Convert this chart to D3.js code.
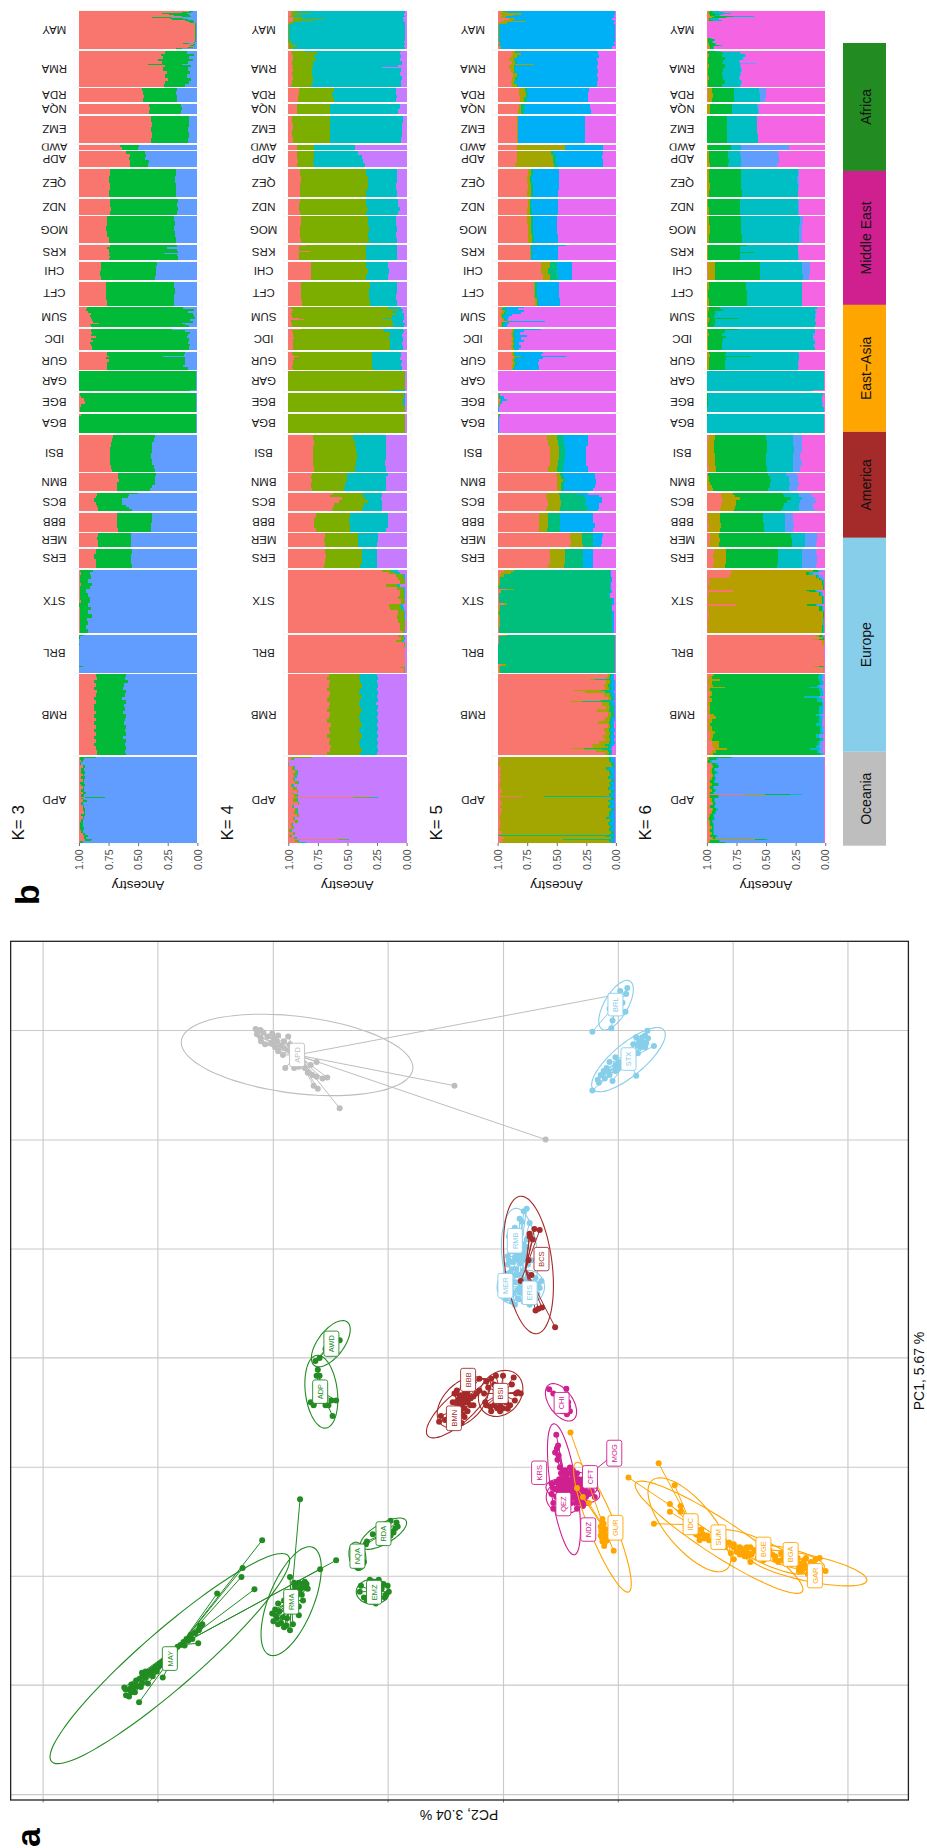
<!DOCTYPE html>
<html><head><meta charset="utf-8">
<script src="https://cdnjs.cloudflare.com/ajax/libs/d3/7.8.5/d3.min.js"></script>
<style>html,body{margin:0;padding:0;background:#fff}svg{display:block}text{font-family:"Liberation Sans",Arial,sans-serif}</style>
</head><body><div id="chart"></div>
<script>
// ---------- panel b : populations, top to bottom ----------
const populations = ["MAY","RMA","RDA","NQA","EMZ","AWD","ADP","QEZ","NDZ","MOG","KRS","CHI","CFT","SUM","IDC","GUR","GAR","BGE","BGA","BSI","BMN","BCS","BBB","MER","ERS","STX","BRL","RMB","APD"];
const populationSizes = [38,36,14,10,27,5,16,28,16,27,15,18,24,20,21,18,20,19,19,37,18,18,19,14,19,63,38,81,86];
const ancestryTicks = [0,0.25,0.5,0.75,1];
const kValues = [3,4,5,6];
const k3Colors = ["#F8766D","#00BA38","#619CFF"];
const k4Colors = ["#F8766D","#7CAE00","#00BFC4","#C77CFF"];
const k5Colors = ["#F8766D","#A3A500","#00BF7D","#00B0F6","#E76BF3"];
const k6Colors = ["#F8766D","#B79F00","#00BA38","#00BFC4","#619CFF","#F564E3"];
// each run: [individuals, then ancestry-axis % where each component ends, reading from 100 down to 0]
const k3Rows = [
 [[1,7,4],[1,13,5],[1,30,9],[1,24,7],[1,20,6],[1,13,5],[1,38,22],[1,23,12],[1,21,8],[1,10,4],[1,8,3],[1,6,3],[18,2,1],[1,3,2],[1,12,7],[1,4,2],[1,6,3],[1,3,2],[1,8,4],[1,18,13]],
 [[3,27,9],[2,31,3],[3,29,7],[2,33,4],[3,30,8],[1,42,13],[2,27,5],[4,29,8],[3,26,6],[4,27,9],[3,25,5],[3,27,7],[3,28,10]],
 [[3,47,17],[4,46,18],[3,45,17],[4,46,17]],
 [[3,41,14],[3,40,13],[4,41,14]],
 [[6,39,7],[5,38,7],[5,39,8],[6,38,7],[5,39,8]],
 [[2,65,49],[3,64,50]],
 [[3,60,44],[3,57,43],[3,58,44],[3,57,41],[4,57,42]],
 [[7,74,18],[7,75,19],[7,74,18],[7,75,18]],
 [[4,74,16],[4,74,17],[4,73,16],[4,74,17]],
 [[5,76,20],[5,76,19],[5,77,20],[6,76,19],[6,75,18]],
 [[2,74,17],[2,76,26],[2,75,17],[2,75,16],[1,74,28],[2,75,17],[2,74,16],[2,75,16]],
 [[4,81,34],[5,81,35],[5,82,35],[4,81,36]],
 [[6,77,20],[6,77,19],[6,77,20],[6,76,20]],
 [[2,93,12],[2,94,3],[2,92,8],[2,90,4],[2,91,3],[2,90,2],[2,89,6],[2,88,4],[1,83,13],[1,91,10],[2,90,7]],
 [[1,90,21],[2,90,10],[2,89,6],[2,90,8],[2,86,9],[2,90,7],[2,88,7],[2,91,8],[2,90,6],[2,89,7],[2,89,7]],
 [[2,76,10],[2,76,11],[1,75,29],[2,77,10],[3,75,10],[3,76,10],[2,76,12],[3,76,8]],
 [[19,100,1],[1,100,6]],
 [[3,99,1],[2,98,1],[3,96,1],[3,95,1],[3,98,1],[5,99,1]],
 [[2,98,1],[17,100,1]],
 [[3,71,36],[4,72,37],[5,73,38],[6,74,38],[6,74,39],[6,74,38],[4,73,37],[3,72,36]],
 [[3,67,35],[3,67,36],[3,66,36],[3,68,36],[3,68,38],[3,68,40]],
 [[1,85,50],[2,85,58],[2,86,59],[4,87,64],[3,86,64],[2,85,60],[2,84,58],[2,84,55]],
 [[5,68,38],[5,68,38],[5,68,39],[4,67,39]],
 [[4,84,56],[3,85,56],[4,84,56],[3,84,56]],
 [[5,86,55],[5,87,56],[5,86,56],[4,86,55]],
 [[2,99,88],[3,98,91],[4,99,90],[4,99,92],[3,98,89],[3,99,91],[4,99,94],[4,99,92],[3,99,91],[3,98,91],[4,100,92],[3,99,90],[4,99,92],[4,99,89],[3,99,93],[4,99,92],[4,99,94],[4,99,92]],
 [[1,100,97],[3,100,99],[5,100,100],[1,100,99],[21,100,100],[1,100,97],[6,100,100]],
 [[3,86,60],[3,85,61],[3,87,59],[4,86,62],[3,87,63],[3,85,60],[4,86,61],[3,87,64],[4,86,60],[3,87,62],[4,87,61],[3,86,63],[4,87,60],[3,86,61],[4,87,62],[4,86,60],[3,87,61],[4,86,60],[3,87,63],[4,86,60],[3,87,61],[4,86,60],[3,85,61],[2,85,60]],
 [[1,99,86],[2,99,96],[2,98,97],[3,99,98],[3,97,95],[3,98,96],[3,98,95],[2,97,96],[3,98,95],[3,97,96],[2,99,96],[2,98,95],[3,97,96],[3,98,96],[2,97,94],[3,98,96],[1,95,78],[1,98,97],[2,97,96],[2,97,93],[3,98,97],[3,97,96],[3,97,95],[3,96,95],[2,98,95],[3,97,96],[3,98,97],[3,99,97],[2,99,97],[3,99,96],[3,98,97],[2,97,95],[2,96,92],[2,96,94],[1,95,89],[1,95,90],[2,99,97]]
];
const k4Rows = [
 [[1,98,92,1],[1,97,94,1],[1,98,82,2],[1,97,88,2],[1,98,94,2],[1,99,96,1],[2,96,88,3],[1,95,70,2],[1,97,91,3],[1,96,78,2],[2,99,96,1],[16,100,99,1],[2,100,98,2],[2,99,97,1],[2,99,93,2],[2,99,96,1]],
 [[1,98,87,5],[3,97,76,6],[3,96,78,5],[3,96,77,6],[4,97,79,4],[2,96,79,7],[1,97,80,21],[4,96,80,5],[4,97,80,6],[4,96,79,4],[3,97,79,5],[2,97,80,5],[2,98,81,5]],
 [[4,91,61,9],[3,91,63,9],[3,92,62,8],[4,92,61,9]],
 [[5,93,65,6],[5,93,65,7]],
 [[7,97,65,3],[7,96,65,4],[7,97,65,4],[6,96,65,5]],
 [[5,93,78,44]],
 [[4,93,78,41],[4,93,78,38],[4,92,79,37],[4,93,78,35]],
 [[7,90,34,8],[7,89,33,8],[7,90,33,9],[7,90,34,8]],
 [[4,90,34,7],[4,91,34,7],[4,91,33,6],[4,90,34,7]],
 [[5,89,33,9],[5,89,33,9],[6,90,32,8],[6,90,33,9],[5,89,32,8]],
 [[1,85,34,8],[5,91,34,8],[1,82,34,8],[8,91,34,8]],
 [[6,81,34,16],[6,81,33,15],[6,81,34,16]],
 [[6,89,31,8],[6,89,32,8],[6,89,32,9],[6,88,31,8]],
 [[2,98,16,5],[2,96,7,3],[2,97,12,4],[2,98,9,2],[3,97,12,2],[1,91,20,2],[1,87,12,2],[3,98,12,3],[2,97,11,1],[2,97,12,2]],
 [[1,90,22,3],[2,97,19,2],[2,96,14,3],[3,96,14,4],[2,95,16,3],[3,96,14,3],[3,96,14,4],[3,96,14,3],[2,96,14,3]],
 [[2,97,29,5],[2,96,29,5],[1,91,28,5],[3,95,29,6],[3,96,29,4],[3,96,29,5],[2,97,29,4],[2,96,28,4]],
 [[19,100,1,1],[1,100,13,1]],
 [[5,100,2,1],[8,100,3,1],[6,100,1,1]],
 [[19,100,1,1]],
 [[5,79,45,17],[6,78,44,17],[7,79,43,17],[7,79,42,17],[6,79,43,18],[6,78,44,17]],
 [[3,80,50,16],[3,81,50,17],[3,80,50,17],[3,81,52,17],[3,81,52,17],[3,80,53,17]],
 [[2,62,37,21],[2,65,37,21],[3,55,35,22],[3,57,33,21],[4,61,36,21],[2,62,38,21],[2,63,38,21]],
 [[5,77,48,16],[5,78,49,16],[5,78,48,16],[4,77,48,17]],
 [[5,69,41,24],[4,70,41,24],[5,69,41,25]],
 [[5,69,38,25],[5,68,38,25],[5,69,38,25],[4,70,39,25]],
 [[2,21,13,7],[2,15,10,6],[3,9,3,1],[3,7,2,1],[4,6,1,1],[3,17,8,6],[3,8,3,1],[6,6,2,1],[3,7,2,1],[5,5,1,1],[3,15,6,3],[3,14,5,2],[5,7,2,1],[4,8,2,1],[4,7,1,1],[8,6,1,1],[2,3,2,1]],
 [[2,7,3,2],[3,5,2,1],[2,9,4,2],[5,2,1,1],[20,1,1,1],[1,6,1,1],[5,2,1,1]],
 [[3,66,39,25],[3,67,40,24],[3,65,39,25],[4,66,38,24],[3,67,39,25],[4,65,40,24],[3,66,38,25],[4,67,39,24],[3,65,40,26],[4,66,39,24],[3,67,38,25],[4,65,39,24],[3,66,40,25],[4,67,39,24],[3,64,38,25],[4,66,40,24],[3,65,39,25],[4,67,38,24],[3,65,39,25],[4,66,40,24],[3,64,39,25],[4,65,38,24],[3,67,39,25]],
 [[1,97,80,80],[2,98,96,95],[3,99,99,99],[3,100,99,99],[4,97,95,94],[3,94,93,92],[2,96,93,92],[3,95,94,93],[3,96,95,94],[3,94,92,91],[3,98,97,95],[3,96,93,93],[3,93,92,92],[1,97,96,95],[3,95,93,92],[1,45,30,24],[4,96,93,92],[3,92,91,91],[3,97,96,95],[3,94,93,92],[3,95,93,92],[3,93,91,91],[3,96,95,94],[3,94,92,92],[3,98,97,96],[3,97,95,95],[3,99,98,97],[3,96,94,94],[2,99,98,97],[2,95,94,93],[1,58,50,49],[2,94,92,91],[1,92,90,85]]
];
const k5Rows = [
 [[1,97,95,94,1],[1,96,92,92,1],[2,98,80,80,1],[1,96,87,87,2],[1,97,93,93,2],[1,98,94,94,1],[2,90,86,86,3],[1,95,88,88,2],[1,96,76,76,1],[2,99,92,92,2],[18,100,99,99,1],[2,99,98,98,2],[2,100,99,99,1],[3,98,97,97,3]],
 [[2,88,85,84,15],[2,87,80,79,15],[3,89,84,83,14],[3,90,86,85,16],[3,88,85,84,15],[1,89,69,69,15],[4,90,86,85,16],[4,89,86,85,15],[4,87,84,83,16],[4,88,85,84,15],[3,89,86,85,16],[3,88,84,83,16]],
 [[4,82,77,75,23],[5,82,76,74,24],[5,81,78,75,24]],
 [[5,82,80,77,22],[5,83,80,78,21]],
 [[9,84,83,83,26],[9,84,83,83,26],[9,84,83,83,26]],
 [[5,84,43,43,11]],
 [[4,84,55,52,11],[4,84,53,51,12],[4,84,53,51,11],[4,85,52,50,11]],
 [[7,74,72,70,48],[7,75,73,71,48],[7,74,72,70,48],[7,75,72,70,49]],
 [[8,74,73,72,49],[8,75,73,71,49]],
 [[9,75,72,70,50],[9,74,72,70,50],[9,74,71,69,49]],
 [[1,73,72,71,42],[7,73,72,72,49],[1,73,72,68,49],[6,73,72,72,49]],
 [[6,63,56,50,37],[6,63,57,50,37],[6,62,56,49,37]],
 [[8,69,68,67,48],[8,69,68,67,48],[8,68,67,66,47]],
 [[1,96,94,92,78],[2,97,96,94,83],[2,96,94,92,78],[2,97,95,93,80],[2,98,96,94,88],[2,97,96,95,90],[3,96,95,94,91],[1,93,90,88,60],[2,97,96,94,90],[3,97,96,95,92]],
 [[1,88,86,84,63],[2,88,86,85,78],[3,89,87,86,81],[2,88,87,86,75],[3,88,86,85,80],[2,89,87,86,78],[3,88,86,85,82],[3,89,87,86,80],[2,88,86,85,82]],
 [[2,88,86,85,62],[2,88,86,85,63],[1,86,80,78,42],[2,87,85,84,62],[3,88,86,85,65],[3,87,85,84,66],[3,88,86,85,65],[2,88,87,86,65]],
 [[20,100,100,100,100]],
 [[3,100,99,99,98],[3,100,99,98,95],[2,98,97,96,92],[3,99,98,98,96],[3,100,99,99,98],[5,100,100,100,99]],
 [[3,100,99,98,98],[16,100,100,100,99]],
 [[5,58,50,45,24],[6,57,49,44,24],[7,56,48,43,25],[7,56,48,43,25],[6,56,49,44,25],[6,57,50,45,24]],
 [[3,51,47,45,18],[3,50,46,44,18],[3,50,45,43,17],[3,50,46,44,17],[3,50,46,44,18],[3,50,46,44,19]],
 [[2,58,48,33,24],[2,59,47,27,14],[3,58,47,26,12],[3,57,46,25,12],[3,57,46,26,14],[3,58,47,24,14],[2,59,47,25,15]],
 [[5,65,57,47,19],[5,65,57,47,19],[5,65,57,47,18],[4,65,58,47,19]],
 [[4,39,29,19,11],[3,39,29,19,12],[4,38,29,19,12],[3,39,28,19,13]],
 [[5,56,43,28,19],[5,56,43,28,19],[5,56,43,28,19],[4,57,44,28,19]],
 [[2,95,86,5,4],[2,97,89,5,4],[3,98,95,5,4],[5,99,98,4,3],[3,99,98,5,4],[4,100,99,5,4],[1,93,86,5,4],[3,98,97,4,3],[5,99,99,6,5],[5,99,99,3,2],[2,95,92,3,2],[6,99,98,4,3],[4,100,99,3,2],[6,99,98,3,2],[6,99,98,3,2],[6,99,99,3,2]],
 [[1,97,92,1,1],[8,99,99,1,1],[20,100,100,1,1],[2,97,93,1,1],[7,99,98,1,1]],
 [[3,7,5,3,2],[2,8,6,4,2],[1,22,18,5,2],[4,8,5,3,1],[3,10,7,4,1],[3,9,6,3,1],[1,35,13,6,1],[2,26,9,5,2],[4,10,5,3,1],[3,7,4,2,1],[1,14,12,4,1],[1,39,29,5,2],[4,12,6,3,1],[3,8,5,2,1],[3,16,6,2,1],[5,7,4,2,1],[4,9,5,3,1],[3,15,6,4,2],[4,7,5,3,2],[4,10,6,4,1],[3,8,5,3,2],[4,11,6,4,1],[3,9,5,4,2],[3,14,6,4,1],[2,20,9,5,2],[2,19,7,4,3],[1,38,27,6,3],[1,27,12,6,4],[2,17,7,4,3],[2,9,6,4,3],[1,10,7,5,3]],
 [[2,97,6,4,1],[3,99,6,4,1],[3,100,4,2,1],[3,98,3,1,1],[3,97,8,6,1],[3,98,6,4,1],[3,97,5,3,1],[3,98,7,5,1],[3,97,4,2,1],[3,98,6,4,1],[3,99,5,3,1],[3,97,7,5,1],[3,96,4,2,1],[3,98,6,4,1],[1,79,61,11,1],[3,98,4,2,1],[3,97,7,5,1],[3,96,5,3,1],[3,98,7,5,1],[3,96,4,2,1],[3,97,6,4,1],[3,98,6,4,1],[3,99,8,6,1],[3,98,5,3,1],[3,97,7,5,1],[3,98,5,3,1],[3,99,6,4,1],[3,96,4,2,1],[2,99,6,4,1],[1,100,99,2,1],[1,97,8,6,1],[2,95,4,2,1],[1,97,45,4,1],[2,96,6,4,1],[1,98,4,2,1]]
];
const k6Rows = [
 [[1,99,97,95,90,90],[1,99,98,96,86,85],[1,99,98,93,80,80],[1,98,97,90,86,86],[1,99,97,93,89,89],[1,97,94,78,60,60],[1,98,96,85,83,83],[2,99,98,97,90,90],[1,99,98,95,87,87],[18,100,100,100,100,100],[1,100,99,97,96,96],[2,100,99,94,93,93],[2,100,99,96,95,95],[2,99,98,93,92,92],[1,99,98,90,87,87],[3,99,97,95,94,94]],
 [[1,100,99,92,88,88],[2,100,99,86,72,71],[3,99,98,87,68,67],[3,100,99,85,70,69],[3,100,99,86,73,72],[1,100,99,87,72,58],[4,100,98,85,72,71],[4,100,99,86,71,70],[4,100,99,87,72,71],[4,99,98,86,73,72],[4,100,99,85,71,70],[3,100,99,87,72,71]],
 [[5,99,96,77,56,50],[5,99,95,77,55,50],[4,99,96,77,55,51]],
 [[5,100,97,79,58,56],[5,100,97,79,57,56]],
 [[9,100,100,83,58,58],[9,100,100,83,58,58],[9,100,100,83,57,57]],
 [[5,100,99,80,71,31]],
 [[4,100,98,82,72,40],[4,100,98,82,71,39],[4,100,98,81,71,39],[4,100,97,82,71,41]],
 [[7,100,98,71,23,22],[7,100,98,71,24,22],[7,100,97,71,23,22],[7,100,98,70,23,23]],
 [[8,100,99,72,23,22],[8,100,98,72,23,22]],
 [[9,100,98,71,21,19],[9,100,97,71,22,20],[9,100,98,70,22,20]],
 [[1,100,99,66,23,23],[6,100,99,72,23,23],[1,100,99,60,23,23],[7,100,99,72,23,22]],
 [[6,99,93,55,20,13],[6,99,93,55,20,13],[6,99,93,55,19,14]],
 [[8,100,98,67,20,20],[8,100,99,66,20,20],[8,100,98,66,20,20]],
 [[2,100,98,89,7,6],[2,100,98,86,9,9],[2,100,99,93,8,7],[2,100,99,93,9,8],[3,100,99,94,9,8],[1,99,97,74,9,8],[3,100,98,93,9,9],[3,100,99,93,8,8],[2,100,99,94,9,9]],
 [[1,100,99,74,9,9],[3,100,99,85,9,9],[3,100,98,87,10,9],[2,100,99,84,10,10],[3,100,99,86,10,9],[3,100,99,87,9,9],[3,100,99,87,10,9],[3,100,99,87,9,9]],
 [[2,100,98,84,23,22],[2,99,97,85,22,22],[1,99,97,63,22,22],[3,100,98,84,22,22],[3,100,98,85,23,22],[3,100,98,85,23,23],[2,100,98,85,23,22],[2,100,98,85,23,23]],
 [[19,100,100,100,1,1],[1,100,100,100,10,10]],
 [[3,100,100,99,2,2],[5,100,100,99,3,3],[6,100,100,99,3,2],[5,100,100,100,1,1]],
 [[2,100,100,99,1,1],[17,100,100,100,1,1]],
 [[5,98,93,50,27,20],[6,99,94,49,27,20],[7,99,94,49,26,20],[7,99,93,50,27,21],[6,99,93,50,27,20],[6,98,92,49,27,21]],
 [[3,99,99,48,33,24],[3,100,98,47,31,23],[3,100,98,46,31,23],[3,100,97,47,30,22],[3,99,96,47,31,23],[3,99,95,48,31,24]],
 [[2,88,78,36,22,12],[2,88,76,35,22,11],[3,87,72,29,20,9],[3,86,75,32,21,8],[3,88,75,35,22,10],[3,88,76,36,22,10],[2,89,77,37,22,9]],
 [[5,99,89,53,34,27],[5,99,89,53,34,27],[5,98,88,52,34,26],[4,99,89,52,34,27]],
 [[5,97,90,29,17,7],[4,97,89,28,17,7],[5,98,90,28,17,8]],
 [[5,94,84,40,20,8],[5,95,84,40,20,7],[5,94,84,40,20,7],[4,95,85,41,20,8]],
 [[2,80,10,6,5,2],[3,80,16,14,10,5],[3,81,8,7,5,2],[2,98,5,4,3,1],[5,97,3,2,1,1],[5,99,2,1,1,1],[1,78,16,9,8,4],[1,78,14,8,6,3],[4,98,5,4,3,2],[8,99,3,2,1,1],[2,75,15,8,7,3],[5,99,5,3,2,1],[7,98,2,1,1,1],[7,99,2,2,1,1],[8,99,3,2,1,1]],
 [[2,8,5,3,2,1],[2,4,2,1,1,1],[1,10,5,1,1,1],[5,3,1,1,1,1],[16,1,1,1,1,1],[1,3,1,1,1,1],[4,1,1,1,1,1],[1,10,5,2,1,1],[6,2,1,1,1,1]],
 [[2,96,94,5,3,1],[2,98,96,6,3,1],[2,99,89,5,3,2],[4,99,96,4,2,1],[2,98,95,7,5,2],[1,97,85,14,4,2],[3,99,97,5,3,1],[4,97,96,4,2,1],[2,99,97,18,5,3],[4,98,96,7,3,1],[4,99,97,3,2,1],[3,98,97,5,2,1],[4,99,97,5,2,1],[2,97,94,8,4,2],[3,97,92,5,3,1],[4,99,96,5,3,2],[3,98,97,8,3,2],[4,99,96,4,3,1],[3,97,93,4,2,1],[4,97,95,8,5,2],[3,98,96,4,2,1],[3,96,90,6,4,2],[3,95,90,8,5,2],[2,93,83,13,4,2],[3,96,92,7,5,2],[2,98,95,4,2,1]],
 [[1,99,98,80,79,1],[2,99,98,92,91,1],[3,100,99,97,96,1],[2,97,96,92,91,1],[3,96,95,91,90,1],[3,97,96,94,93,1],[3,97,96,92,91,1],[3,96,95,94,93,1],[3,97,96,93,92,1],[3,98,97,94,93,1],[3,97,96,91,90,1],[3,98,97,95,94,1],[3,97,96,93,92,1],[2,98,97,95,94,1],[1,68,51,30,20,1],[3,98,97,91,90,1],[3,97,96,94,93,1],[3,96,95,93,92,1],[3,98,97,94,93,1],[3,96,95,92,91,1],[3,97,96,93,92,1],[3,98,97,95,94,1],[3,99,98,94,93,1],[3,98,97,96,95,1],[3,98,97,95,94,1],[3,97,96,95,94,1],[3,98,97,95,94,1],[3,97,96,95,94,1],[2,98,97,92,91,1],[2,96,95,93,92,1],[1,97,59,51,48,1],[2,98,97,90,89,1],[1,99,98,85,84,1]]
];
// ---------- legend ----------
const legendGroups = ["Africa","Middle East","East\u2212Asia","America","Europe","Oceania"];
const legendSpans = [128,134,127,106,214,94];
const groupColors = ["#228B22","#D02090","#FFA500","#A52A2A","#87CEEB","#BEBEBE"];
// ---------- panel a : PC coordinates in reading units of the plot ----------
const pc2Ticks = [72,266,461,655,850,1044,1238,1432];
const pc1Ticks = [186,371,555,739,924,1108,1292,1477];
const pcaPops = ["APD","BRL","STX","RMB","MER","ERS","BCS","BBB","BMN","BSI","CHI","KRS","CFT","QEZ","MOG","NDZ","GUR","IDC","SUM","BGE","BGA","GAR","AWD","ADP","RDA","NQA","EMZ","RMA","MAY"];
const pcaGroup = [5,4,4,4,4,4,3,3,3,3,1,1,1,1,1,1,2,2,2,2,2,2,0,0,0,0,0,0,0];
const pcaHubs = [[502,228],[1040,143],[1062,235],[878,570],[865,620],[890,625],[888,590],[782,812],[775,825],[846,800],[948,815],[958,960],[975,955],[960,975],[965,962],[960,965],[1022,1030],[1168,1022],[1213,1043],[1290,1065],[1335,1075],[1372,1095],[559,716],[543,797],[648,1037],[604,1075],[630,1135],[492,1150],[305,1225]];
const pcaLabels = [[502,228],[1040,143],[1062,235],[870,542],[854,618],[895,630],[915,573],[791,777],[767,842],[846,800],[949,816],[911,934],[997,941],[952,987],[1038,901],[994,1030],[1040,1027],[1167,1021],[1214,1043],[1290,1063],[1336,1072],[1377,1108],[560,716],[541,797],[648,1037],[604,1075],[632,1136],[492,1152],[287,1248]];
const pcaEllipses = [[502,228,197,65,7],[1041,144,47,20,-60],[1062,236,78,27,-40],[878,565,78,30,85],[865,620,25,28,0],[893,620,27,28,0],[893,583,117,40,83],[782,815,52,32,-45],[775,825,70,24,-42],[846,800,42,34,-50],[948,815,36,20,55],[953,962,112,22,81],[975,955,35,22,5],[955,975,32,28,0],[968,965,46,20,10],[965,970,25,18,0],[1018,1026,118,22,68],[1165,1022,98,40,50],[1215,1043,168,30,33],[1290,1068,80,18,25],[1335,1078,60,15,15],[1365,1095,102,22,12],[559,716,46,22,-53],[543,797,62,27,83],[648,1037,44,17,-30],[604,1075,24,14,80],[630,1135,28,21,0],[492,1151,98,38,-68],[287,1248,265,48,-41]];
const pcaPoints = [
 [[432,184],[436,188],[440,186],[434,193],[445,190],[452,197],[441,205],[448,210],[460,192],[463,200],[470,195],[468,205],[475,212],[480,205],[487,197],[490,210],[470,222],[478,228],[465,215],[458,208],[440,198],[495,215],[500,235],[510,240],[515,250],[525,245],[535,240],[520,258],[528,262],[535,265],[545,268],[553,266],[530,280],[537,285],[482,250],[497,250],[505,248],[574,318],[768,280],[922,371],[1032,128]],
 [[1060,115],[1058,125],[1057,155],[1035,170],[1033,183],[1001,189],[1030,150],[1048,120],[1052,140],[1042,135]],
 [[1001,288],[1094,187],[1090,195],[1075,198],[1085,205],[1082,215],[1090,215],[1105,213],[1078,225],[1040,232],[1045,240],[1030,240],[1025,250],[1015,262],[1010,270],[1035,272],[1030,262],[1045,250],[1075,263],[1055,245],[1070,210],[1095,200],[1080,205],[1088,208],[1020,255],[1040,255],[1012,275],[1022,268],[1085,198],[1078,210],[1092,208],[1040,245],[1028,256],[1018,262]],
 [[885,492],[890,488],[878,505],[882,510],[895,512],[860,535],[862,560],[870,570],[875,575],[880,580],[885,575],[872,590],[880,600],[865,590],[870,545],[876,555],[868,560],[880,555],[886,560],[870,520],[880,530],[890,540],[862,548],[868,535],[875,540],[884,548],[890,552],[858,568],[866,578],[874,565],[880,568],[888,568],[892,582],[858,582],[862,596],[875,600],[885,592],[892,600],[898,575]],
 [[870,600],[855,600],[860,610],[850,620],[845,625],[856,640],[865,645],[860,575],[875,625],[868,630],[850,608],[862,622],[872,612],[880,618],[858,632],[848,632],[866,612],[876,640],[870,650]],
 [[875,640],[885,645],[895,650],[905,605],[910,615],[915,610],[905,640],[900,625],[892,600],[882,615],[878,630],[890,620],[912,622],[908,632],[898,612],[886,608],[880,625],[892,632],[900,642],[886,635]],
 [[903,522],[912,524],[895,535],[938,688],[910,657],[916,655],[905,660],[895,530],[898,600],[880,610],[900,540],[893,575]],
 [[800,805],[810,795],[822,780],[810,775],[795,790],[790,800],[782,790],[770,800],[765,815],[775,825],[790,815],[785,808],[800,820],[778,803],[788,796],[795,808],[772,815],[805,800]],
 [[745,838],[742,848],[752,845],[760,840],[765,830],[770,815],[780,820],[785,825],[775,810],[790,815],[768,800],[772,795],[785,800],[780,810],[795,820],[785,840],[780,850],[775,835],[770,825],[778,828],[785,815],[790,830],[782,835],[768,838],[760,828],[795,808]],
 [[850,770],[868,773],[865,785],[875,798],[880,800],[870,812],[862,820],[850,825],[840,825],[830,830],[822,820],[818,800],[825,790],[830,775],[835,785],[820,815],[845,830],[855,815],[872,800],[838,770],[835,820],[845,822],[858,826],[828,822]],
 [[928,793],[957,792],[960,815],[963,830],[958,835],[950,830],[935,800],[942,806],[960,822]],
 [[940,870],[943,888],[938,900],[942,912],[948,935],[932,952],[950,945],[955,930],[963,925],[968,930],[946,925],[944,905],[941,893]],
 [[985,945],[990,955],[1000,965],[1005,975],[975,935],[985,965],[970,950],[980,975],[992,945],[965,935],[978,945],[995,970],[985,985],[970,940],[960,935],[975,968]],
 [[932,970],[935,985],[945,995],[960,995],[965,985],[955,975],[945,985],[975,985],[950,965],[960,965],[970,975],[938,962],[942,975],[950,990],[955,985],[965,975],[975,995],[985,990],[935,995],[948,975],[958,970],[970,965]],
 [[1035,905],[945,955],[950,950],[975,945],[960,945],[965,950],[975,960],[985,985],[955,960],[945,945],[955,940],[968,945],[980,950],[985,955],[990,965],[960,955],[968,958],[978,968],[948,962],[955,968]],
 [[935,960],[940,975],[950,980],[960,955],[970,965],[980,960],[990,975],[965,975],[940,950],[950,958],[962,962],[972,972],[985,970],[992,985],[945,968],[955,950],[965,968],[982,978],[975,978],[960,980]],
 [[964,866],[1037,1066],[1018,1012],[1015,1025],[1020,1035],[1022,1045],[1018,1050],[1025,1040],[1020,1020],[1015,1040],[1022,1052],[975,960],[985,975],[995,985],[1016,1032],[1024,1030],[1020,1028],[1026,1048],[1017,1044],[1021,1058],[1018,1018]],
 [[1113,918],[1140,955],[1132,987],[1150,990],[1132,1000],[1105,1020],[1170,1010],[1180,1040],[1190,1045],[1175,1030],[1185,1030],[1195,1040],[1182,1048],[1176,1038],[1188,1038],[1198,1048],[1168,1030]],
 [[1062,942],[1150,1000],[1240,1080],[1268,1085],[1210,1050],[1225,1060],[1240,1060],[1255,1065],[1232,1052],[1245,1068],[1262,1075],[1222,1052],[1250,1072],[1235,1070]],
 [[1240,1055],[1250,1060],[1262,1068],[1270,1072],[1285,1070],[1295,1075],[1310,1080],[1258,1075],[1268,1060],[1280,1078],[1300,1065],[1320,1082],[1275,1065],[1262,1060],[1290,1082],[1305,1072],[1255,1068],[1282,1062]],
 [[1310,1075],[1320,1070],[1335,1080],[1345,1085],[1350,1095],[1355,1100],[1330,1072],[1340,1068],[1360,1090],[1315,1085],[1325,1078],[1338,1088],[1348,1078],[1358,1082],[1328,1088]],
 [[1345,1080],[1352,1090],[1360,1095],[1370,1085],[1378,1080],[1385,1078],[1395,1100],[1380,1100],[1375,1110],[1365,1105],[1385,1095],[1358,1085],[1368,1095],[1376,1090],[1355,1098],[1372,1102],[1362,1078],[1350,1100]],
 [[574,710],[540,740],[560,715],[533,745],[550,725]],
 [[537,760],[540,770],[535,770],[545,795],[525,815],[530,820],[550,820],[560,812],[568,812],[562,838],[530,818],[555,820]],
 [[670,1018],[660,1015],[672,1025],[665,1035],[655,1048],[630,1038],[620,1050],[618,1055],[640,1045],[660,1040],[668,1028],[652,1030]],
 [[618,1055],[615,1085],[605,1095],[598,1080],[610,1070]],
 [[610,1125],[625,1115],[640,1115],[655,1125],[657,1135],[650,1145],[635,1155],[620,1150],[608,1135],[645,1130],[615,1145],[648,1122],[652,1140],[628,1118]],
 [[507,979],[490,1110],[497,1120],[505,1120],[515,1118],[520,1130],[510,1140],[512,1150],[505,1160],[505,1175],[480,1150],[470,1155],[465,1165],[460,1172],[462,1185],[470,1190],[475,1188],[480,1195],[490,1200],[485,1180],[495,1190],[500,1130],[508,1130],[514,1128],[500,1125],[510,1122],[518,1122],[506,1136],[468,1180],[478,1178],[472,1168],[484,1192],[466,1175]],
 [[210,1297],[213,1310],[218,1300],[222,1292],[228,1305],[235,1322],[230,1285],[240,1272],[245,1280],[250,1290],[255,1270],[262,1265],[268,1262],[275,1280],[240,1290],[225,1300],[218,1312],[232,1295],[248,1275],[258,1278],[236,1282],[242,1276],[252,1272],[265,1270],[228,1292],[222,1305],[212,1300],[238,1296],[246,1270],[272,1258],[305,1225],[310,1220],[315,1215],[325,1215],[330,1205],[338,1192],[335,1222],[300,1228],[322,1208],[312,1226],[318,1218],[443,1048],[410,1095],[408,1110],[367,1138],[430,1131],[541,1097],[568,1082],[338,1195],[336,1200],[342,1190]]
];

const W = 927, H = 1848;
const svg = d3.select("#chart").append("svg").attr("width",W).attr("height",H).attr("viewBox",`0 0 ${W} ${H}`);
svg.append("rect").attr("width",W).attr("height",H).attr("fill","#fff");
const defs = svg.append("defs");

// ----- panel b -----
const rowsByK = [k3Rows,k4Rows,k5Rows,k6Rows];
const colorsByK = [k3Colors,k4Colors,k5Colors,k6Colors];
const panelLeft = d3.scaleLinear().domain([3,4]).range([79,288.3]);
const panelWidth = 118.3;
const gapUnits = 1.71;
const totalUnits = d3.sum(populationSizes) + gapUnits*(populations.length-1);
const yRow = d3.scaleLinear().domain([0,totalUnits]).range([11,843]);
const popStart = populations.map((p,i)=> d3.sum(populationSizes.slice(0,i)) + i*gapUnits);

kValues.forEach((k,ki)=>{
  const left = panelLeft(k);
  const x = d3.scaleLinear().domain([1,0]).range([left,left+panelWidth]);
  const g = svg.append("g");
  const colors = colorsByK[ki];
  populations.forEach((pop,pi)=>{
    const s = popStart[pi], n = populationSizes[pi];
    const top = yRow(s), bot = yRow(s+n);
    g.append("rect").attr("x",left-5).attr("width",panelWidth+10).attr("y",top-0.3).attr("height",bot-top+0.6)
      .attr("fill","none").attr("stroke","#f3f3f3").attr("stroke-width",0.6);
    const runs = rowsByK[ki][pi];
    const unit = n/d3.sum(runs,r=>r[0]);
    let off = 0;
    runs.forEach(r=>{
      const y0 = yRow(s+off), y1 = yRow(s+off+r[0]*unit);
      off += r[0]*unit;
      const ends = r.slice(1).concat([0]);
      let prev = 100;
      ends.forEach((e,ci)=>{
        if(prev>e){
          g.append("rect").attr("x",x(prev/100)).attr("width",x(e/100)-x(prev/100))
           .attr("y",y0).attr("height",y1-y0).attr("fill",colors[ci]).attr("shape-rendering","crispEdges");
        }
        prev = e;
      });
    });
    const id = `clip-${k}-${pop}`;
    defs.append("clipPath").attr("id",id).append("rect").attr("x",left-60).attr("width",55).attr("y",top-1).attr("height",bot-top+2);
    g.append("g").attr("clip-path",`url(#${id})`).append("text")
      .attr("transform",`translate(${left-24.7},${(top+bot)/2}) rotate(180)`).attr("text-anchor","middle").attr("dy","0.36em")
      .attr("font-size",11.5).attr("fill","#1a1a1a").text(pop);
  });
  const axis = g.append("g").attr("transform",`translate(0,843)`)
    .call(d3.axisBottom(x).tickValues(ancestryTicks).tickFormat(d3.format(".2f")).tickSize(3));
  axis.select(".domain").remove();
  axis.selectAll("line").attr("stroke","#333").attr("stroke-width",0.7);
  axis.selectAll("text").attr("transform","rotate(-90)").attr("x",-6.5).attr("y",0).attr("dy","0.36em")
    .attr("text-anchor","end").attr("font-size",10.5).attr("fill","#4d4d4d");
  g.append("text").attr("transform",`translate(${left+59},881) rotate(180)`).attr("text-anchor","middle")
    .attr("font-size",13.5).attr("fill","#111").text("Ancestry");
  g.append("text").attr("transform",`translate(${left-55.5},840.5) rotate(-90)`).attr("font-size",17).attr("fill","#111").text("K= "+k);
});

// legend
const legY = d3.scaleLinear().domain([0,d3.sum(legendSpans)]).range([43,845.7]);
let legOff = 0;
legendGroups.forEach((name,i)=>{
  const y0 = legY(legOff), y1 = legY(legOff+legendSpans[i]);
  legOff += legendSpans[i];
  svg.append("rect").attr("x",843).attr("width",43).attr("y",y0).attr("height",y1-y0).attr("fill",groupColors[i]);
  svg.append("text").attr("transform",`translate(865.5,${(y0+y1)/2}) rotate(-90)`).attr("text-anchor","middle").attr("dy","0.36em")
    .attr("font-size",14).attr("fill","#111").text(name);
});

// ----- panel a -----
const plot = {l:10.65,r:908.4,t:941.3,b:1800};
const x = d3.scaleLinear().domain([18,1535]).range([plot.l,plot.r]);
const y = d3.scaleLinear().domain([36,1487]).range([plot.t,plot.b]);
const gGrid = svg.append("g");
const gx = gGrid.append("g").attr("transform",`translate(0,${plot.b})`)
  .call(d3.axisBottom(x).tickValues(pc2Ticks).tickFormat("").tickSize(-(plot.b-plot.t)).tickSizeOuter(0));
const gy = gGrid.append("g").attr("transform",`translate(${plot.r},0)`)
  .call(d3.axisRight(y).tickValues(pc1Ticks).tickFormat("").tickSize(-(plot.r-plot.l)).tickSizeOuter(0));
[gx,gy].forEach(a=>{a.select(".domain").remove();a.selectAll("line").attr("stroke","#c9c9c9").attr("stroke-width",1.1);});
const gt = gGrid.append("g").attr("transform",`translate(0,${plot.b})`).call(d3.axisBottom(x).tickValues(pc2Ticks).tickFormat("").tickSize(2.5).tickSizeOuter(0));
gt.select(".domain").remove(); gt.selectAll("line").attr("stroke","#444").attr("stroke-width",0.7);

const ellipseLine = d3.line().x(d=>x(d[0])).y(d=>y(d[1])).curve(d3.curveCardinalClosed);
const gMarks = svg.append("g");
pcaPops.forEach((pop,i)=>{
  const col = groupColors[pcaGroup[i]];
  const [cx,cy,a,b,ang] = pcaEllipses[i];
  const t = ang*Math.PI/180;
  const outline = d3.range(0,360,6).map(d=>{
    const u=d*Math.PI/180, ex=a*Math.cos(u), ey=b*Math.sin(u);
    return [cx+ex*Math.cos(t)-ey*Math.sin(t), cy+ex*Math.sin(t)+ey*Math.cos(t)];
  });
  gMarks.append("path").attr("d",ellipseLine(outline)).attr("fill","none").attr("stroke",col).attr("stroke-width",1.1);
  const hub = pcaHubs[i];
  gMarks.append("g").selectAll("line").data(pcaPoints[i]).join("line")
    .attr("x1",x(hub[0])).attr("y1",y(hub[1])).attr("x2",d=>x(d[0])).attr("y2",d=>y(d[1]))
    .attr("stroke",col).attr("stroke-width",1);
  gMarks.append("g").selectAll("circle").data(pcaPoints[i]).join("circle")
    .attr("cx",d=>x(d[0])).attr("cy",d=>y(d[1])).attr("r",3).attr("fill",col);
});
const gLabels = svg.append("g");
pcaPops.forEach((pop,i)=>{
  const col = groupColors[pcaGroup[i]];
  const [lx,ly] = pcaLabels[i];
  const lab = gLabels.append("g").attr("transform",`translate(${x(lx)},${y(ly)})`);
  const rect = lab.append("rect").attr("fill","#fff").attr("stroke",col).attr("stroke-width",0.9).attr("rx",2.2);
  const txt = lab.append("text").attr("transform","rotate(-90)").attr("text-anchor","middle").attr("dy","0.36em")
    .attr("font-size",7.5).attr("fill",col).text(pop);
  const len = txt.node().getComputedTextLength()+8;
  rect.attr("x",-7.5).attr("width",15).attr("y",-len/2).attr("height",len);
});
svg.append("rect").attr("x",plot.l).attr("y",plot.t).attr("width",plot.r-plot.l).attr("height",plot.b-plot.t)
  .attr("fill","none").attr("stroke","#222").attr("stroke-width",1.3);
svg.append("text").attr("transform","translate(924,1371) rotate(-90)").attr("text-anchor","middle").attr("font-size",14).attr("fill","#111").text("PC1, 5.67 %");
svg.append("text").attr("transform","translate(459,1810) rotate(180)").attr("text-anchor","middle").attr("font-size",14).attr("fill","#111").text("PC2, 3.04 %");
svg.append("text").attr("transform","translate(39,905) rotate(-90)").attr("font-size",34).attr("font-weight","bold").attr("fill","#000").text("b");
svg.append("text").attr("transform","translate(40,1847) rotate(-90)").attr("font-size",34).attr("font-weight","bold").attr("fill","#000").text("a");
</script></body></html>
